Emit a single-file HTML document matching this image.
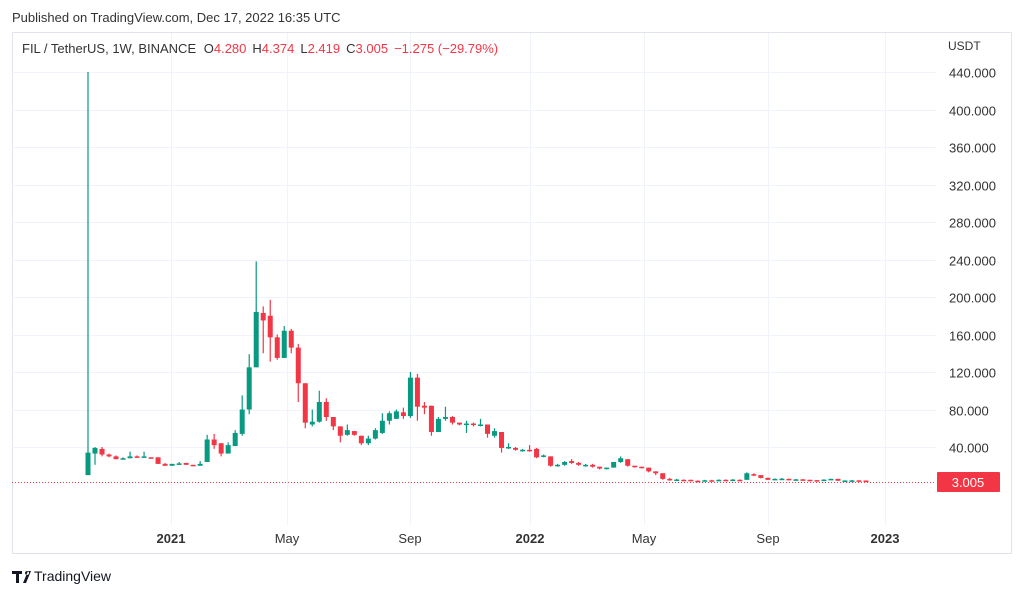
<!DOCTYPE html>
<html><head><meta charset="utf-8"><style>
body{margin:0;background:#fff;width:1024px;height:595px;overflow:hidden;font-family:"Liberation Sans",sans-serif;}
svg{position:absolute;left:0;top:0}
</style></head><body>
<svg id="s" width="1024" height="595" xmlns="http://www.w3.org/2000/svg" font-family="Liberation Sans, sans-serif">
<text x="12" y="22" font-size="13" fill="#333">Published on TradingView.com, Dec 17, 2022 16:35 UTC</text>
<rect x="12.5" y="32.5" width="999" height="521" fill="none" stroke="#e0e3eb"/>
<g id="grid" stroke="#f0f3fa" stroke-width="1"></g>
<text x="22" y="53" font-size="13" fill="#333">FIL / TetherUS, 1W, BINANCE <tspan dx="4">O</tspan><tspan fill="#f23645">4.280</tspan><tspan dx="6">H</tspan><tspan fill="#f23645">4.374</tspan><tspan dx="6">L</tspan><tspan fill="#f23645">2.419</tspan><tspan dx="6">C</tspan><tspan fill="#f23645">3.005</tspan><tspan dx="6" fill="#f23645">−1.275 (−29.79%)</tspan></text>
<text x="948" y="50" font-size="12" fill="#333">USDT</text>
<line x1="12" y1="482.5" x2="936" y2="482.5" stroke="#f23645" stroke-dasharray="1,2" stroke-width="1"/>
<g id="c"></g>
<rect x="937" y="472" width="63" height="20" rx="1" fill="#f23645"/>
<text x="968" y="487" font-size="13" fill="#fff" text-anchor="middle">3.005</text>
<g font-size="13" fill="#333" text-anchor="middle">
<text x="171" y="543" font-weight="bold">2021</text>
<text x="287" y="543">May</text>
<text x="410" y="543">Sep</text>
<text x="530" y="543" font-weight="bold">2022</text>
<text x="644" y="543">May</text>
<text x="768" y="543">Sep</text>
<text x="885" y="543" font-weight="bold">2023</text>
</g>
<g id="yl" font-size="13" fill="#333"></g>
<g transform="translate(12,569)">
<path d="M0 2h10v3H7v9H4V5H0z M11 14l5-12h3l-5 12z M15 2a2 2 0 1 0 0.1 0z" fill="#131722"/>
</g>
<text x="34" y="581" font-size="14" fill="#131722">TradingView</text>
</svg>
<script>
var s="http://www.w3.org/2000/svg";
function Y(p){return 484.5-p*0.9375;}
var g=document.getElementById('grid'),yl=document.getElementById('yl');
for(var p=40;p<=440;p+=40){var y=Math.round(Y(p))+0.5;
var l=document.createElementNS(s,'line');l.setAttribute('x1',12);l.setAttribute('x2',936);l.setAttribute('y1',y);l.setAttribute('y2',y);g.appendChild(l);
var t=document.createElementNS(s,'text');t.setAttribute('x',949);t.setAttribute('y',y+5);t.textContent=p.toFixed(3);yl.appendChild(t);}
[171,287,410,530,644,768,885].forEach(function(x){var l=document.createElementNS(s,'line');l.setAttribute('x1',x+.5);l.setAttribute('x2',x+.5);l.setAttribute('y1',33);l.setAttribute('y2',525);g.appendChild(l);});
var d=[[10,34,440,10],[33,39,40,21],[38,32,40,30],[32,30,33,29],[30,27,31,27],[27,28,29,27],[28,30,35,28],[30,29,31,29],[29,30,35,29],[29,28,29,28],[29,22,29,22],[22,20,23,20],[20,22,22,20],[22,22.5,24,21],[23,21,23,21],[21,20,21,20],[20,22,25,20],[24,48,53,24],[48,42,54,38],[44,33,44,30],[33,42,45,33],[41,55,58,41],[54,80,95,52],[80,125,139,75],[125,184,238,125],[183,175,190,140],[180,157,197,131],[157,135,160,133],[135,164,169,135],[164,146,166,140],[146,108,150,88],[108,66,108,60],[64,67,80,62],[67,88,100,66],[88,72,92,68],[72,62,72,58],[62,52,62,45],[53,58,64,52],[57,53,57,52],[52,44,52,42],[44,49,52,42],[49,58,60,48],[55,68,76,54],[68,76,78,64],[70,78,80,70],[77,73,82,70],[73,114,120,71],[114,83,118,68],[84,82,88,75],[84,56,84,52],[56,70,72,56],[70,72,83,68],[72,66,73,64],[66,64,66,63],[64,65,68,55],[65,64,66,62],[64,64,70,62],[64,54,64,50],[52,57,60,50],[56,39,56,34],[39,40,44,38],[39,37,40,36],[36,37,38,35],[37,36,42,35],[38,29,39,28],[30,31,32,29],[30,20,30,19],[20,21,22,19],[21,24,25,20],[25,23,27,22],[23,21,24,20],[20,21,22,19],[21,19,22,18],[19,17,19,16],[17,18,18,16],[18,24,24,18],[24,28,30,23],[27,20,27,19],[20,19,20,18],[19,18,19,17],[18,14,18,13],[14,12,14,10],[12,6,12,5],[6,5,7,4],[5,5.3,6,4],[5,4,5.5,3.8],[5,4,5.2,3.5],[4,3.5,4.5,3.2],[3.6,4.5,5,3.4],[4.5,4.2,5,4],[4.2,5,5.5,4],[5,4.6,5.5,4.4],[4.6,5.2,5.8,4.5],[5,4.5,5.5,4.3],[5,12,13,5],[11,10,12,9],[10,7,10,6.5],[7,5,7.5,4.8],[5,6,6.5,4.8],[6,6.2,7,5.5],[6,5,6.3,4.8],[5,5.5,6,4.9],[5.5,5,5.8,4.8],[5,4.6,5.2,4.5],[4.6,4.2,4.8,4],[4.2,5.2,5.6,4.1],[5.2,6,6.2,5],[6,4,6,3.8],[4,4.3,4.5,3.9],[4.3,4.4,4.8,4.1],[4.4,4.28,4.6,4],[4.28,3.0,4.37,2.4]];
var c=document.getElementById('c'),n=d.length,sp=(866-88)/(n-1);
d.forEach(function(k,i){var x=88+i*sp,up=k[1]>=k[0],col=up?'#089981':'#f23645';
var w=document.createElementNS(s,'line');w.setAttribute('x1',x);w.setAttribute('x2',x);w.setAttribute('y1',Y(k[2]));w.setAttribute('y2',Y(k[3]));w.setAttribute('stroke',col);w.setAttribute('stroke-width',1.2);c.appendChild(w);
var t=Y(Math.max(k[0],k[1])),b=Y(Math.min(k[0],k[1]));var r=document.createElementNS(s,'rect');r.setAttribute('x',x-2.5);r.setAttribute('width',5);r.setAttribute('y',t);r.setAttribute('height',Math.max(1.5,b-t));r.setAttribute('fill',col);c.appendChild(r);});
</script>
</body></html>
